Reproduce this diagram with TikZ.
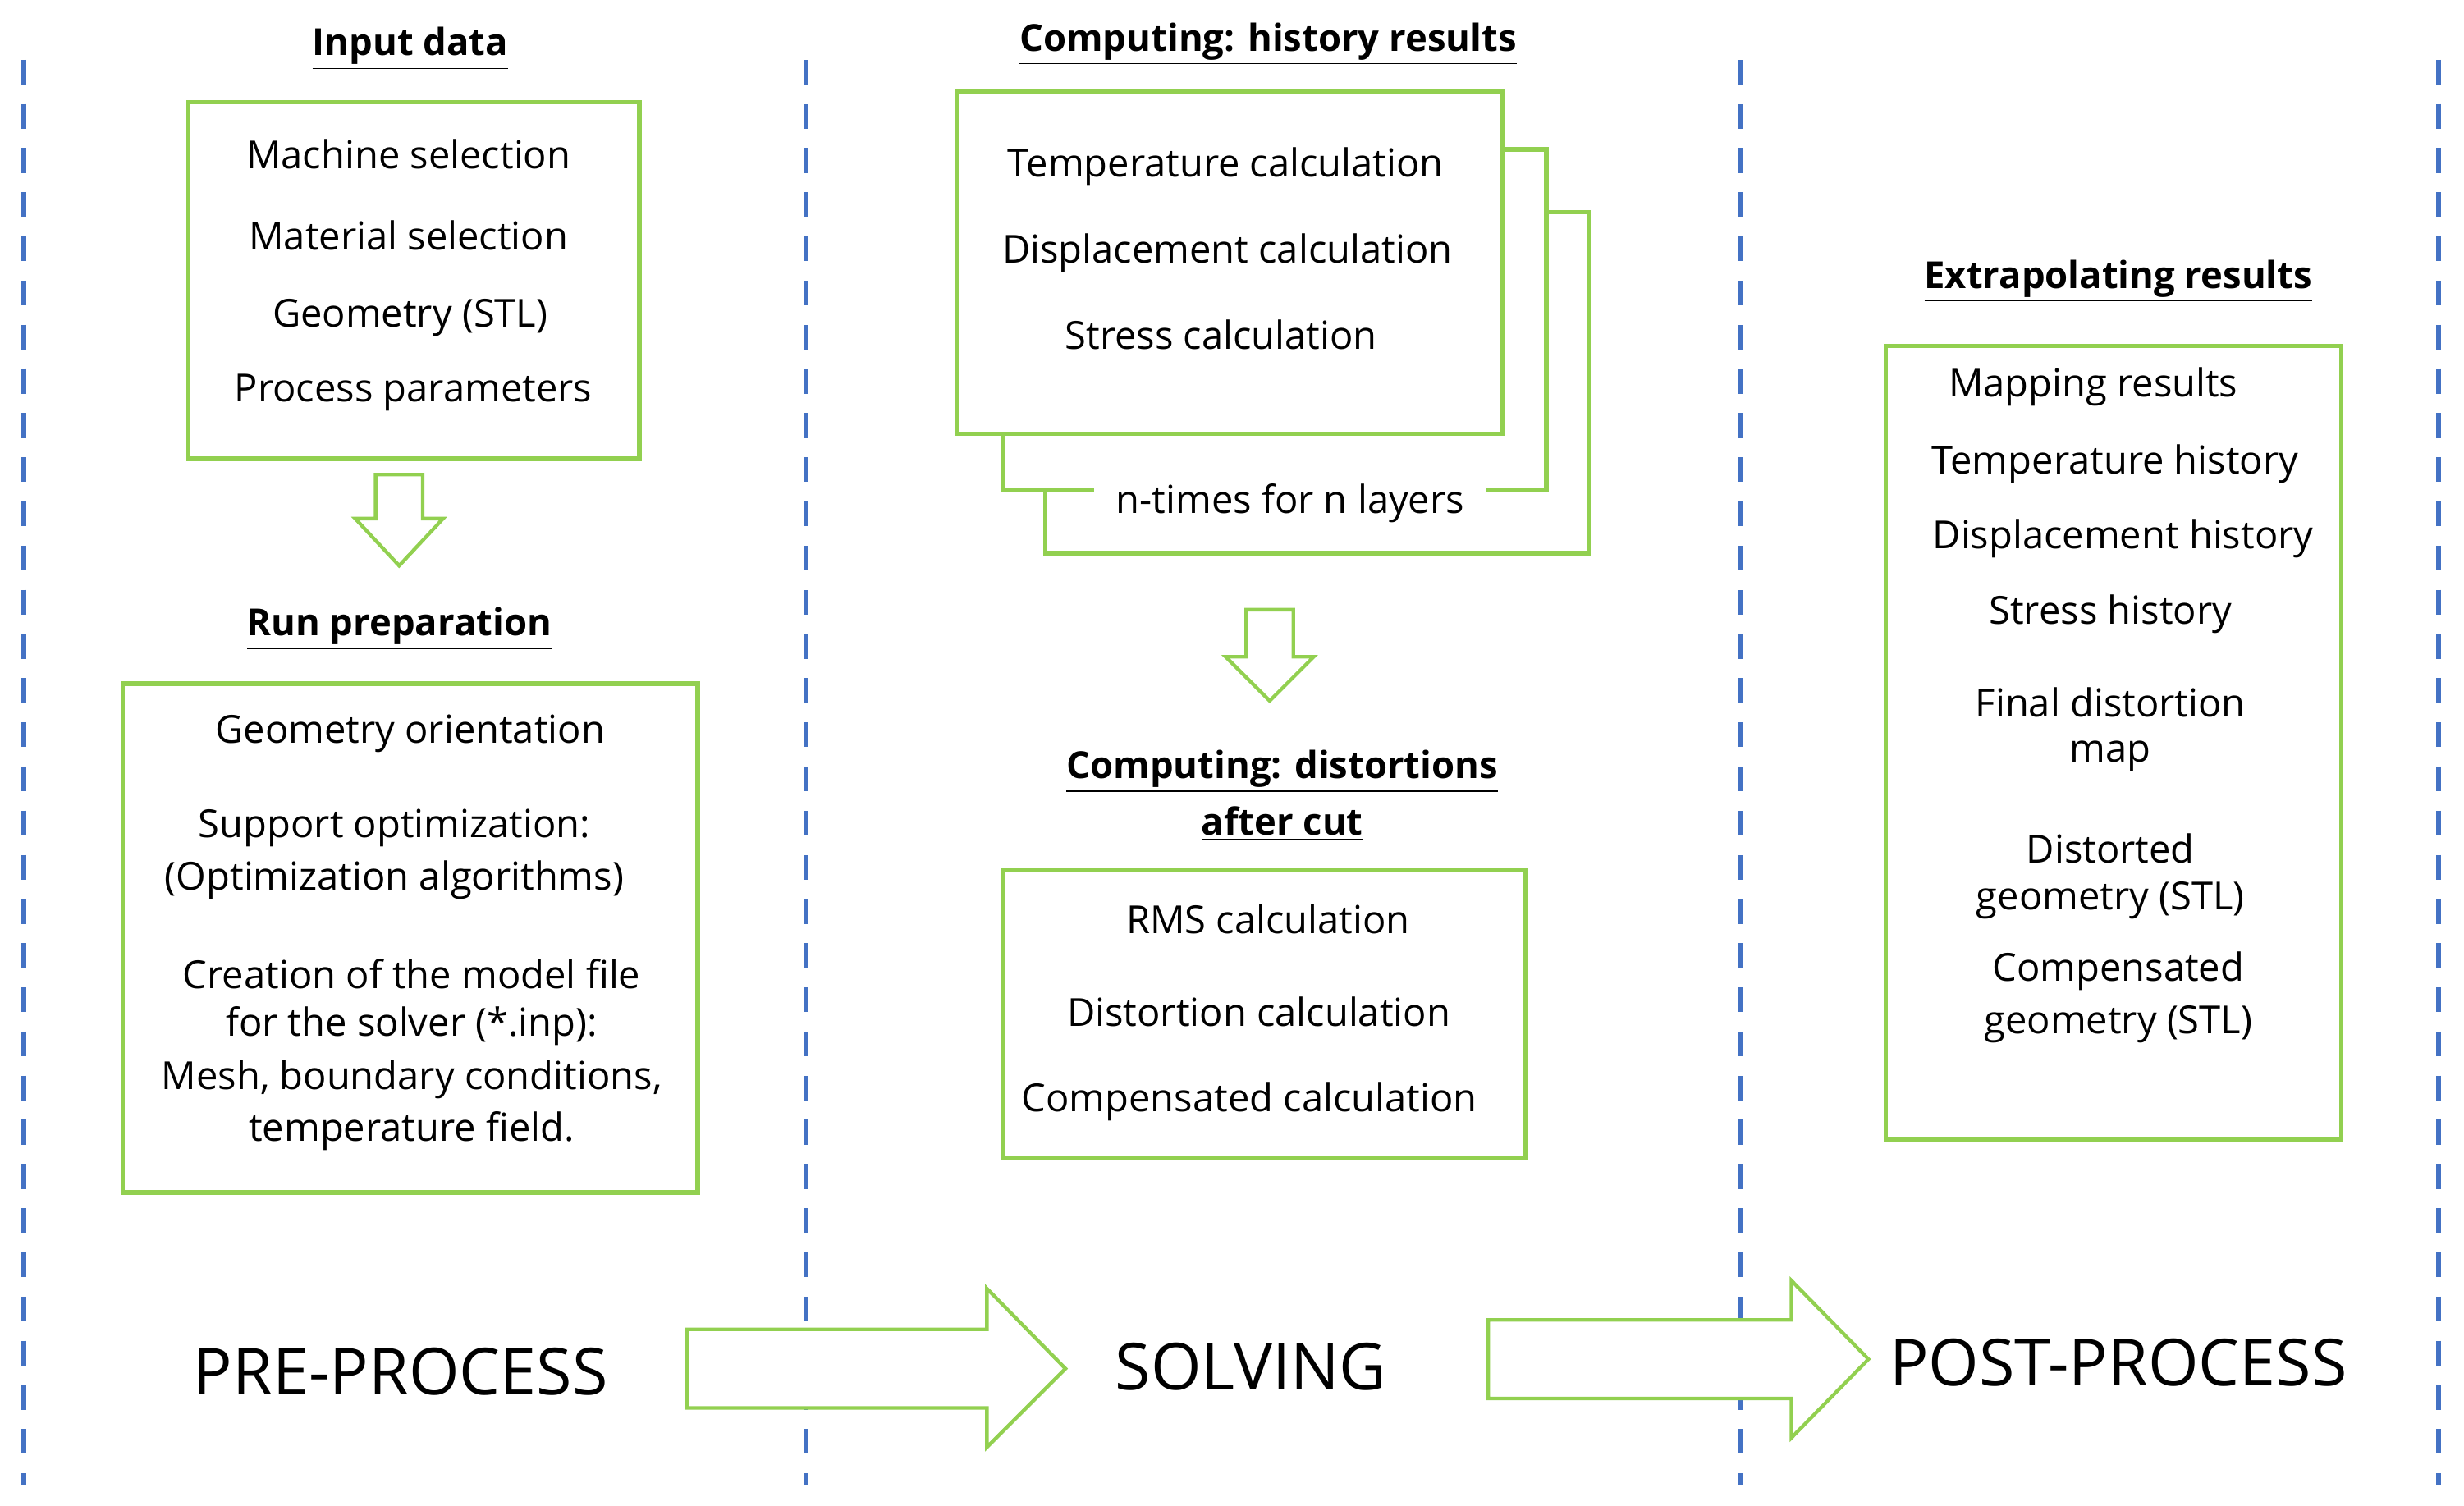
\documentclass[tikz,border=0pt]{standalone}
\usepackage{fontspec}
\setmainfont{Open Sans}
\begin{document}
\begin{tikzpicture}[x=0.02cm,y=-0.02cm,
  gbox/.style={draw=grn,line width=1.6pt,fill=white},
  txt/.style={font=\fontsize{14}{17}\selectfont,inner sep=1pt},
  ttl/.style={font=\fontsize{13.5}{16}\selectfont\bfseries,inner sep=1pt},
  big/.style={font=\fontsize{23.5}{28}\selectfont,inner sep=1pt},
  sep/.style={draw=sepblue,line width=1.8pt,dash pattern=on 9pt off 7pt},
  harrow/.style={draw=grn,line width=1.3pt,fill=white,line join=miter}]
\definecolor{grn}{RGB}{146,208,80}
\definecolor{sepblue}{RGB}{68,114,196}
\useasboundingbox (0,0) rectangle (1568,958);
% separators
\foreach \x/\n in {15/s1,513/s2,1108/s3,1552/s4}{
  \coordinate (\n a) at (\x,38); \coordinate (\n b) at (\x,945);
  \draw[sep] (\n a) -- (\n b);}
% column 1
\node[ttl] (t1) at (261,31) {\underline{Input data}};
\node[gbox,minimum width=5.74cm,minimum height=4.54cm] (b1) at (263.5,178.5) {};
\node[txt] at (260,98) {Machine selection};
\node[txt] at (260,150) {Material selection};
\node[txt] at (261,202) {Geometry (STL)};
\node[txt] at (263,250) {Process parameters};
\draw[harrow] (239,302) -- (269,302) -- (269,330) -- (282,330) -- (254,360) -- (226,330) -- (239,330) -- cycle;
\node[ttl] (t2) at (254,400) {\underline{Run preparation}};
\node[gbox,minimum width=7.32cm,minimum height=6.48cm] (b2) at (261,597) {};
\node[txt] at (261,467) {Geometry orientation};
\node[txt] at (251,527) {Support optimization:};
\node[txt] at (251,560) {(Optimization algorithms)};
\node[txt] at (262,620) {Creation of the model file};
\node[txt] at (262,653) {for the solver (*.inp):};
\node[txt] at (262,687) {Mesh, boundary conditions,};
\node[txt] at (262,720) {temperature field.};
% column 2
\node[ttl] (t3) at (807,28) {\underline{Computing: history results}};
\node[gbox,minimum width=6.92cm,minimum height=4.34cm] (b3c) at (838,243.5) {};
\node[gbox,minimum width=6.92cm,minimum height=4.34cm] (b3b) at (811,203.5) {};
\node[gbox,minimum width=6.94cm,minimum height=4.36cm] (b3a) at (782.5,167) {};
\node[txt,fill=white,inner xsep=8pt] at (821,320) {n-times for n layers};
\node[txt] at (780,106) {Temperature calculation};
\node[txt] at (781,161) {Displacement calculation};
\node[txt] at (777,213) {Stress calculation};
\draw[harrow] (793,388) -- (823,388) -- (823,418) -- (836,418) -- (808,446) -- (780,418) -- (793,418) -- cycle;
\node[ttl] (t4) at (816,491) {\underline{Computing: distortions}};
\node[ttl] (t5) at (816,524) {\underline{after cut}};
\node[gbox,minimum width=6.66cm,minimum height=3.66cm] (b4) at (804.5,645.5) {};
\node[txt] at (807,585) {RMS calculation};
\node[txt] at (801,644) {Distortion calculation};
\node[txt] at (795,701) {Compensated calculation};
% column 3
\node[ttl] (t6) at (1348,179) {\underline{Extrapolating results}};
\node[gbox,minimum width=5.8cm,minimum height=10.1cm] (b5) at (1345,472.5) {};
\node[txt] at (1332,246) {Mapping results};
\node[txt] at (1346,295) {Temperature history};
\node[txt] at (1351,343) {Displacement history};
\node[txt] at (1343,391) {Stress history};
\node[txt] at (1343,447) {Final distortion};
\node[txt] at (1343,481) {map};
\node[txt] at (1343,540) {Distorted};
\node[txt] at (1343,573) {geometry (STL)};
\node[txt] at (1348,618) {Compensated};
\node[txt] at (1348,652) {geometry (STL)};
% bottom
\draw[harrow] (437,846) -- (628,846) -- (628,820) -- (678,871) -- (628,921) -- (628,896) -- (437,896) -- cycle;
\draw[harrow] (947,840) -- (1140,840) -- (1140,815) -- (1189,865) -- (1140,915) -- (1140,890) -- (947,890) -- cycle;
\node[big] (p1) at (255,873) {PRE-PROCESS};
\node[big] (p2) at (796,870) {SOLVING};
\node[big] (p3) at (1348,867) {POST-PROCESS};
\end{tikzpicture}
\end{document}
